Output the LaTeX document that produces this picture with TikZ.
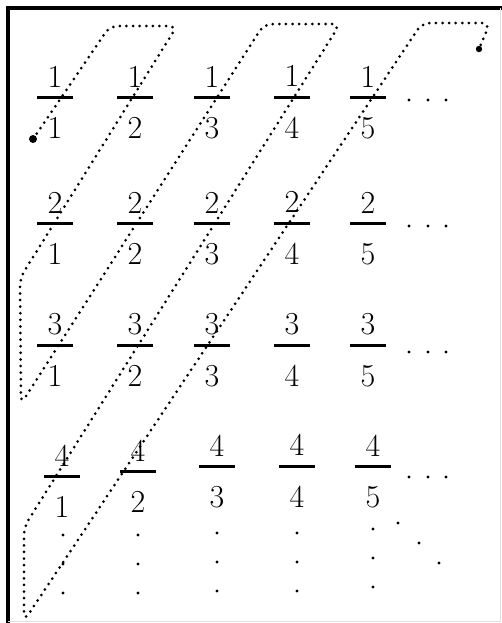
\documentclass[tikz,border=0pt]{standalone}
\usepackage{fontspec}
% fraction with a wide bar; the baseline sits on the bar
\newcommand{\frc}[2]{\raisebox{-20pt}{\vbox{\hbox to 18pt{\hss#1\hss}\kern4.6pt\hrule height1.3pt\kern9pt\hbox to 18pt{\hss#2\hss}}}}
\begin{document}
\begin{tikzpicture}[x=0.5pt, y=-0.5pt,
    frac/.style={inner sep=0pt, anchor=base, font=\fontsize{16}{18}\selectfont},
    trail/.style={line width=1.5pt, dash pattern=on 0pt off 3.3pt, line cap=round, rounded corners=4pt},
    dotmark/.style={fill=black}]
    \useasboundingbox (0,0) rectangle (502,623);
    
    % 1. 边框
    \draw[line width=2pt] (8,623) -- (8,8) -- (502,8);
    \draw[gray!25, line width=0.5pt] (500,8) -- (500,621) -- (8,621);
    
    % 2. 分数表
    \foreach \r/\y in {1/98, 2/224, 3/346}
      \foreach \c/\x in {1/55, 2/135, 3/212, 4/292, 5/368}
        \node[frac] (f\r\c) at (\x,\y) {\frc{\r}{\c}};
    \foreach \c/\x/\y in {1/62/477, 2/138/472, 3/217/467, 4/297/467, 5/373/467}
      \node[frac] (f4\c) at (\x,\y) {\frc{4}{\c}};
    
    % 3. 省略号
    \foreach \y in {100, 226, 352, 477}
      \foreach \x in {409, 428, 446}
        \fill[dotmark] (\x,\y) circle (0.85pt);
    \foreach \x/\y in {63/535, 138/535, 217/533, 297/533, 373/529}
      \foreach \k in {0, 1, 2}
        \fill[dotmark] (\x,\y+29*\k) circle (0.85pt);
    \foreach \x/\y in {398/523, 419/543, 439/563}
      \fill[dotmark] (\x,\y) circle (0.85pt);
    
    % 4. 对角线路径
    \coordinate (S) at (33,139);
    \coordinate (T) at (479,49);
    \draw[trail] (S) -- (110,26) -- (177,26) -- (20,278) -- (21,404)
      -- (264,24) -- (340,24) -- (24,527) -- (24,621)
      -- (422,23) -- (490,23) -- (T);
    \fill (S) circle (2pt);
    \fill (T) circle (1.6pt);
\end{tikzpicture}
\end{document}
